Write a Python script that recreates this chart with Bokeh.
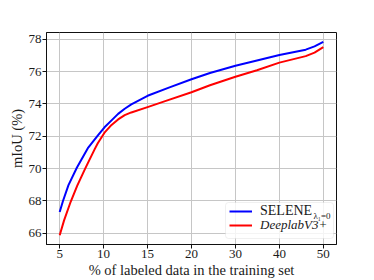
from bokeh.plotting import figure
from bokeh.models import Range1d, Legend, LegendItem, BoxAnnotation, Label, FixedTicker
from bokeh.embed import file_html
from bokeh.resources import INLINE

# x axis: equally spaced categories (position index along the axis)
tick_labels = ["5", "10", "15", "20", "30", "40", "50"]
tick_pos = [0, 1, 2, 3, 4, 5, 6]
y_ticks = [66, 68, 70, 72, 74, 76, 78]

# samples (x = position along the axis)
selene_x = [0, 0.075, 0.2, 0.39, 0.65, 0.87, 1.02, 1.18, 1.33, 1.48, 1.63, 2.0, 2.5, 3.0, 3.42, 4.0, 4.49, 5.0, 5.6, 5.8, 6.0]
selene_y = [67.32, 68.0, 68.98, 70.05, 71.3, 72.05, 72.55, 72.98, 73.38, 73.7, 73.97, 74.5, 75.02, 75.52, 75.91, 76.36, 76.68, 77.02, 77.35, 77.55, 77.83]

deeplab_x = [0, 0.1, 0.25, 0.4, 0.58, 0.8, 0.87, 1.02, 1.18, 1.33, 1.48, 1.63, 2.0, 2.4, 3.0, 3.42, 4.0, 4.49, 5.0, 5.6, 5.8, 6.0]
deeplab_y = [65.88, 66.8, 67.95, 68.95, 70.0, 71.22, 71.58, 72.22, 72.7, 73.04, 73.3, 73.47, 73.8, 74.17, 74.72, 75.15, 75.68, 76.08, 76.55, 76.95, 77.17, 77.5]

FONT = "'Liberation Serif', serif"
TXT = "#1a1a1a"

p = figure(width=374, height=280, output_backend="svg", toolbar_location=None,
           x_range=Range1d(-0.3, 6.3), y_range=Range1d(65.31, 78.41),
           min_border_left=46, min_border_right=38, min_border_top=32, min_border_bottom=0)

p.background_fill_color = "white"
p.border_fill_color = "white"
p.outline_line_color = "#111111"
p.outline_line_width = 1

for ax in (p.xaxis[0], p.yaxis[0]):
    ax.major_label_text_font = FONT
    ax.major_label_text_font_size = "13px"
    ax.major_label_text_color = TXT
    ax.axis_label_text_font = FONT
    ax.axis_label_text_font_size = "14.5px"
    ax.axis_label_text_font_style = "normal"
    ax.axis_label_text_color = TXT
    ax.minor_tick_line_color = None
    ax.major_tick_out = 4
    ax.major_tick_in = 0
    ax.major_tick_line_color = "#111111"
    ax.axis_line_color = "#111111"
    ax.major_label_standoff = 1
    ax.axis_label_standoff = 1

p.xaxis.ticker = FixedTicker(ticks=tick_pos)
p.xaxis.major_label_overrides = {i: t for i, t in zip(tick_pos, tick_labels)}
p.yaxis.ticker = FixedTicker(ticks=y_ticks)
p.xaxis.axis_label = "% of labeled data in the training set"
p.yaxis.axis_label = "mIoU (%)"

p.grid.grid_line_color = "#c6c6c6"
p.grid.grid_line_width = 1

r1 = p.line(selene_x, selene_y, line_color="#0000ff", line_width=2, line_join="round")
r2 = p.line(deeplab_x, deeplab_y, line_color="#ff0000", line_width=2, line_join="round")

# legend frame (screen units relative to the plot frame, y from bottom)
box = BoxAnnotation(left=179, right=287, bottom=6, top=42,
                    left_units="screen", right_units="screen",
                    bottom_units="screen", top_units="screen",
                    fill_color="white", fill_alpha=0.8, line_color="#cccccc",
                    line_width=1, border_radius=3)
p.add_layout(box)

def mk_legend(item, loc, style, size):
    return Legend(items=[item], location=loc, orientation="vertical",
                  label_text_font=FONT, label_text_font_size=size,
                  label_text_font_style=style, label_text_color=TXT,
                  glyph_width=23, glyph_height=16, label_height=16, label_standoff=8,
                  padding=0, spacing=0, margin=0, border_line_color=None,
                  background_fill_alpha=0)

p.add_layout(mk_legend(LegendItem(label="SELENE", renderers=[r1]), (183, 25), "normal", "14px"))
p.add_layout(mk_legend(LegendItem(label="DeeplabV3+", renderers=[r2]), (183, 11), "italic", "13px"))

sub = Label(x=267, y=29, x_units="screen", y_units="screen", text="λ₁=0",
            text_font=FONT, text_font_size="9px", text_color=TXT, text_baseline="middle")
p.add_layout(sub)

open("out.html", "w").write(file_html(p, INLINE))
